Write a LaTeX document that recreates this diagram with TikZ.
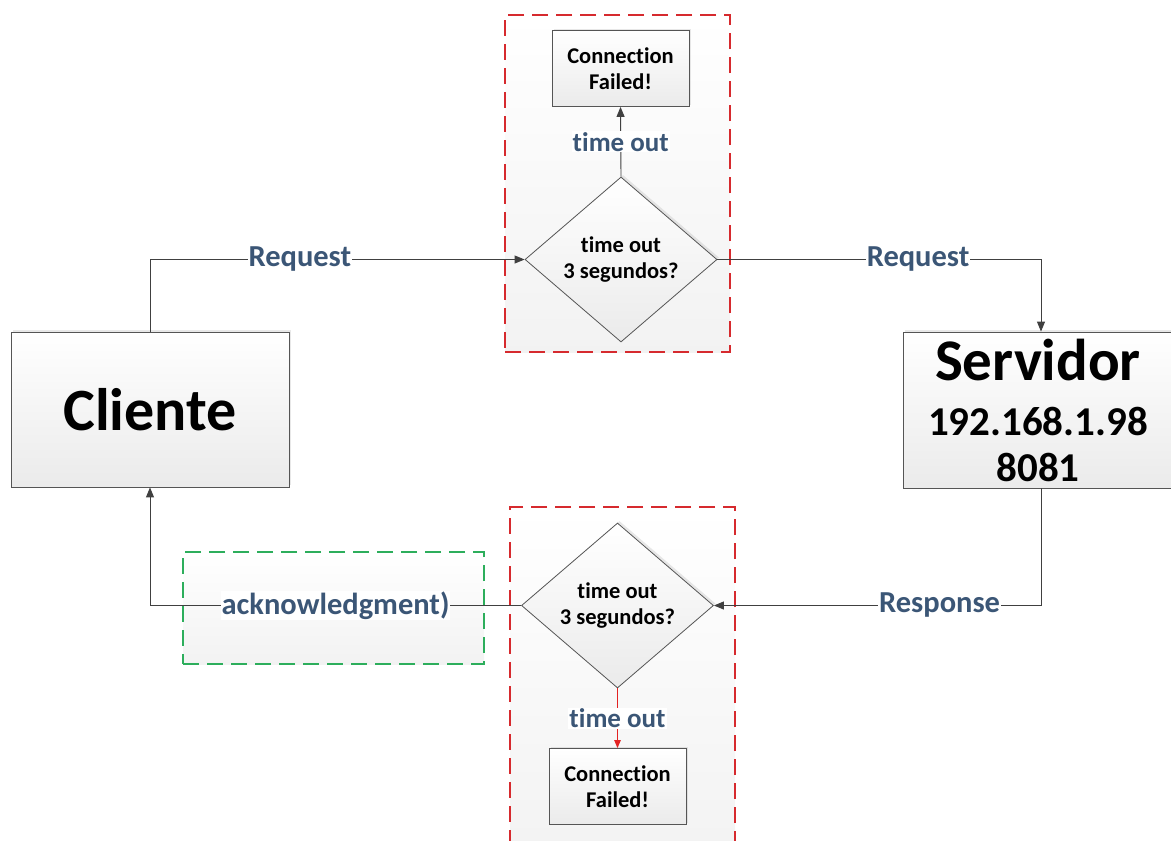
\documentclass[tikz,border=0pt]{standalone}
\usepackage{fontspec}
\setmainfont{Carlito}[Ligatures=CommonOff]
\usetikzlibrary{shapes.geometric,arrows.meta,shadows}

\definecolor{lbltext}{HTML}{3B5676}
\definecolor{edgegray}{HTML}{555555}
\definecolor{linegray}{HTML}{404040}
\definecolor{zonered}{HTML}{D62A2E}
\definecolor{zonegreen}{HTML}{2DAE5C}
\definecolor{failred}{HTML}{E32222}

\tikzset{
  softshadow/.style={drop shadow={opacity=0.18, shadow xshift=2pt, shadow yshift=2pt}},
  boxnode/.style={draw=edgegray, line width=0.8pt, top color=white, bottom color=black!8,
    inner sep=0pt, align=center, font=\bfseries, softshadow},
  failbox/.style={boxnode, minimum width=137pt, minimum height=76pt,
    font=\bfseries\fontsize{22.5}{26}\selectfont},
  decision/.style={diamond, draw=edgegray, line width=0.8pt, top color=white, bottom color=black!8,
    inner sep=0pt, aspect=1.16, minimum width=192pt, minimum height=165pt, align=center,
    font=\bfseries\fontsize{22.5}{26.5}\selectfont, softshadow},
  zone/.style={line width=2.6pt, dash pattern=on 16pt off 8pt,
    top color=white, bottom color=black!5, inner sep=0pt},
  redzone/.style={zone, draw=zonered},
  greenzone/.style={zone, draw=zonegreen},
  conn/.style={draw=linegray, line width=0.9pt, -{Triangle[length=10pt,width=8pt]}},
  failconn/.style={draw=failred, line width=0.9pt, -{Triangle[length=8pt,width=6.5pt]}},
  lbl/.style={fill=white, text=lbltext, inner sep=1pt, font=\bfseries\fontsize{30.5}{32}\selectfont},
  timelbl/.style={lbl, font=\bfseries\fontsize{27}{30}\selectfont},
}

\begin{document}
\begin{tikzpicture}[x=1pt,y=-1pt]
\useasboundingbox (0,0) rectangle (1171,841);

% dashed zones behind the decisions
\node[redzone, minimum width=225pt, minimum height=337pt] (zoneA) at (617.5,183.5) {};
\node[redzone, minimum width=225pt, minimum height=355pt] (zoneB) at (622.5,684.5) {};
\node[greenzone, minimum width=301pt, minimum height=112pt] (zoneC) at (333.5,608) {};

% endpoints
\node[boxnode, minimum width=278pt, minimum height=155pt,
      font=\bfseries\fontsize{60}{66}\selectfont] (cliente) at (150,409.5) {Cliente};
\node[boxnode, minimum width=270pt, minimum height=156pt, text width=270pt,
      font=\bfseries\fontsize{41}{46}\selectfont] (servidor) at (1038,410)
  {{\fontsize{59}{60}\selectfont Servidor}\\[9pt]192.168.1.98\\8081};

% timeout checks
\node[decision] (checkA) at (621,259.5) {time out\\3 segundos?};
\node[decision] (checkB) at (617.5,605.5) {time out\\3 segundos?};

\node[failbox] (failA) at (620.5,68.5) {Connection\\Failed!};
\node[failbox] (failB) at (617.5,786.5) {Connection\\Failed!};

% connectors
\draw[conn] (cliente.north) |- node[lbl, pos=0.7] {Request} (checkA.west);
\draw[conn] (checkA.east) -| node[lbl, pos=0.31] {Request} ([xshift=3pt]servidor.north);
\draw[conn] ([xshift=3pt]servidor.south) |- node[lbl, pos=0.655] {Response} (checkB.east);
\draw[conn] (checkB.west) -| node[lbl, pos=0.25] {acknowledgment)} (cliente.south);
\draw[conn] (checkA.north) -- node[timelbl] {time out} (failA.south);
\draw[failconn] (checkB.south) -- node[timelbl] {time out} (failB.north);
\end{tikzpicture}
\end{document}
